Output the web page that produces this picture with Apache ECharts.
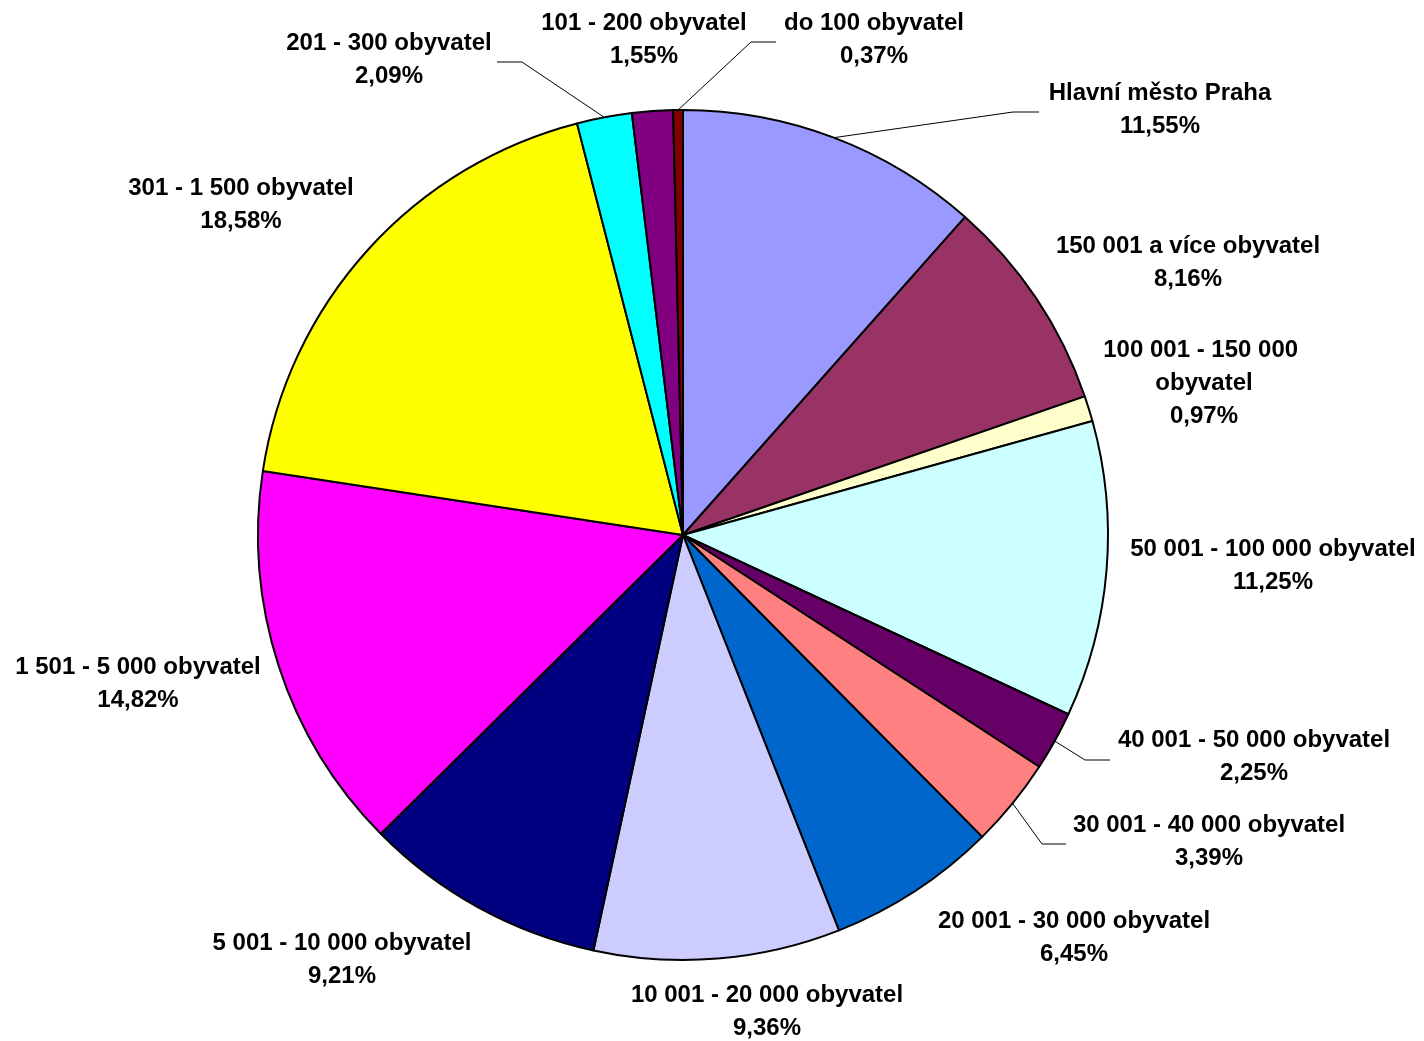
<!DOCTYPE html>
<html>
<head>
<meta charset="utf-8">
<script src="https://cdn.jsdelivr.net/npm/echarts@6/dist/echarts.min.js"></script>
<style>
html,body{margin:0;padding:0;background:#fff;}
#chart{width:1424px;height:1041px;}
</style>
</head>
<body>
<div id="chart"></div>
<script>
// ---- data ----
const categories = [
  'Hlavní město Praha',
  '150 001 a více obyvatel',
  '100 001 - 150 000 obyvatel',
  '50 001 - 100 000 obyvatel',
  '40 001 - 50 000 obyvatel',
  '30 001 - 40 000 obyvatel',
  '20 001 - 30 000 obyvatel',
  '10 001 - 20 000 obyvatel',
  '5 001 - 10 000 obyvatel',
  '1 501 - 5 000 obyvatel',
  '301 - 1 500 obyvatel',
  '201 - 300 obyvatel',
  '101 - 200 obyvatel',
  'do 100 obyvatel'
];
const shares = [11.55, 8.16, 0.97, 11.25, 2.25, 3.39, 6.45, 9.36, 9.21, 14.82, 18.58, 2.09, 1.55, 0.37];

// ---- styles / layout ----
const colors = ['#9999FF','#993366','#FFFFCC','#CCFFFF','#660066','#FF8080','#0066CC',
                '#CCCCFF','#000080','#FF00FF','#FFFF00','#00FFFF','#800080','#800000'];
// label block centres (px)
const labelCenters = [
  [1160,110],[1188,263],[1204,383],[1273,566],[1254,757],[1209,842],[1074,938],
  [767,1012],[342,960],[138,684],[241,205],[389,60],[644,40],[874,40]
];
// leader lines: index -> [elbow, end]
const leaders = {
  0: [[1013,112],[1039,112]],
  4: [[1085,760],[1110,760]],
  5: [[1042,844],[1066,844]],
  11: [[522,62],[497,62]],
  13: [[751,42],[776,42]]
};
const cx = 683, cy = 535, R = 425;

const chart = echarts.init(document.getElementById('chart'), null, {renderer:'canvas'});

const data = categories.map((name, i) => {
  const item = {
    name: name,
    value: shares[i],
    itemStyle: {color: colors[i]},
    labelLine: {show: !!leaders[i]}
  };
  if (i === 2) item.label = {width: 220, overflow: 'break'};
  return item;
});

function fmtPct(v){ return v.toFixed(2).replace('.', ',') + '%'; }

chart.setOption({
  animation: false,
  backgroundColor: '#ffffff',
  series: [{
    type: 'pie',
    center: [cx, cy],
    radius: R,
    startAngle: 90,
    clockwise: true,
    avoidLabelOverlap: false,
    data: data,
    itemStyle: {borderColor: '#000', borderWidth: 2},
    emphasis: {disabled: true},
    label: {
      show: true,
      position: 'outside',
      formatter: p => p.name + '\n' + fmtPct(p.value),
      fontFamily: '"Liberation Sans", Arial, sans-serif',
      fontWeight: 'bold',
      fontSize: 24,
      lineHeight: 33,
      color: '#000',
      align: 'center'
    },
    labelLine: {
      show: true,
      length: 10,
      length2: 10,
      lineStyle: {color: '#000', width: 1}
    },
    labelLayout: function (params) {
      const i = params.dataIndex;
      const c = labelCenters[i];
      const out = {x: c[0], y: c[1], align: 'center', verticalAlign: 'middle'};
      if (leaders[i]) {
        let start = params.labelLinePoints && params.labelLinePoints[0];
        if (!start) {
          let cum = 0;
          for (let k = 0; k < i; k++) cum += shares[k];
          const a = (cum + shares[i] / 2) / 100 * 2 * Math.PI;
          start = [cx + R * Math.sin(a), cy - R * Math.cos(a)];
        }
        out.labelLinePoints = [start, leaders[i][0], leaders[i][1]];
      }
      return out;
    }
  }]
});
</script>
</body>
</html>
